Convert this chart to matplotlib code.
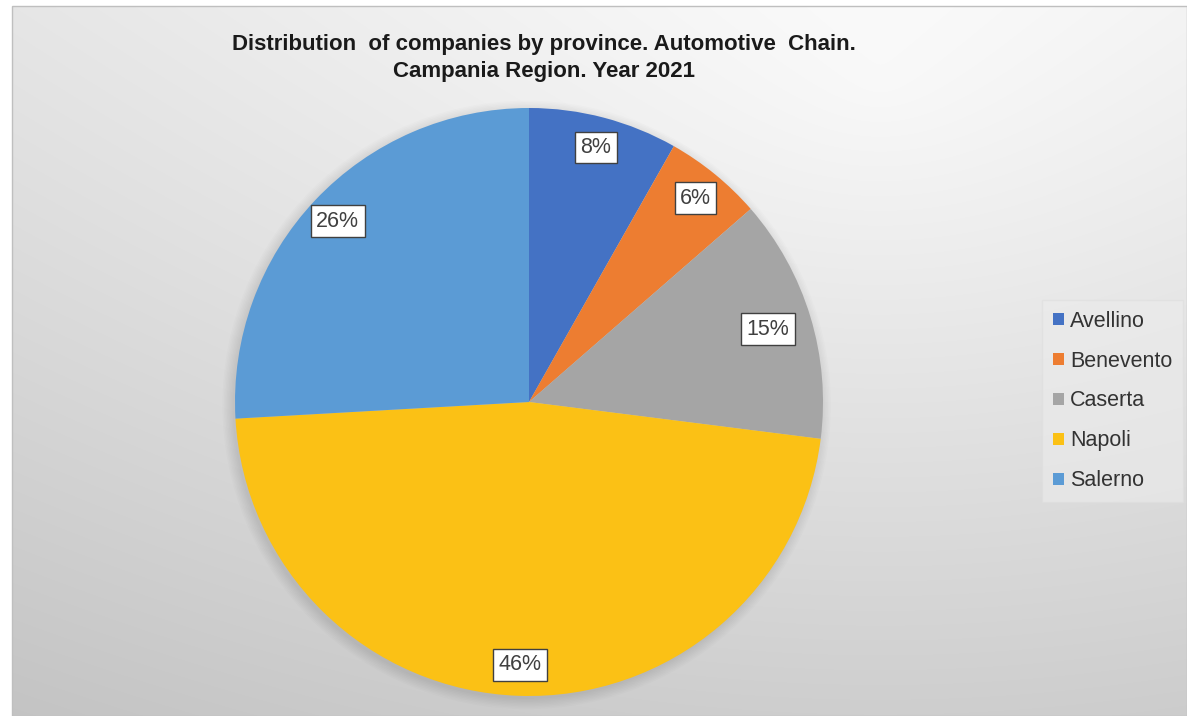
import numpy as np
import matplotlib.pyplot as plt
from matplotlib.patches import Rectangle, Circle

provinces = ['Avellino', 'Benevento', 'Caserta', 'Napoli', 'Salerno']
shares = [8.2, 5.4, 13.4, 47.1, 25.9]
pct_labels = ['8%', '6%', '15%', '46%', '26%']
colors = ['#4472C4', '#ED7D31', '#A5A5A5', '#FBC115', '#5B9BD5']

W, H = 1187, 716
fig = plt.figure(figsize=(W / 100, H / 100), dpi=100)
fig.patch.set_facecolor('white')

# background gradient of the chart area
bx0, by0, bw, bh = 12, 6, W - 12, H - 6
bg = fig.add_axes([bx0 / W, 0, bw / W, bh / H], zorder=0)
yy, xx = np.mgrid[0:bh, 0:bw]
xx = xx + bx0
yy = yy + by0
d = np.hypot(xx - 880, (yy - 80) * 1.1)
v = 252 - 0.025 * d - 0.04 * yy
v = np.clip(v, 190, 252) / 255
bg.imshow(np.dstack([v, v, v]), aspect='auto', extent=[0, 1, 0, 1])
bg.set_xlim(0, 1)
bg.set_ylim(0, 1)
bg.axis('off')
fig.patches.append(Rectangle((bx0 / W, 0), bw / W, bh / H, transform=fig.transFigure,
                             fill=False, edgecolor='#bfbfbf', lw=1, zorder=5))

# pie
cx, cy, R = 529, 402, 294
ax = fig.add_axes([(cx - R * 1.1) / W, (H - cy - R * 1.1) / H, 2.2 * R / W, 2.2 * R / H], zorder=2)
for i in range(8):
    ax.add_patch(Circle((-0.008, -0.01), 1.0 + 0.005 * i, color='black', alpha=0.012, lw=0, zorder=0))
wedges, _ = ax.pie(shares, colors=colors, startangle=90, counterclock=False, radius=1,
                   wedgeprops={'linewidth': 0})
for w, txt in zip(wedges, pct_labels):
    ang = np.deg2rad((w.theta1 + w.theta2) / 2)
    rr = 0.85 if txt == '15%' else 0.895
    ax.text(rr * np.cos(ang), rr * np.sin(ang), txt, ha='center', va='center',
            fontsize=15.5, color='#404040', family='Liberation Sans',
            bbox=dict(boxstyle='square,pad=0.25', fc='white', ec='#404040', lw=1))
ax.set_xlim(-1.1, 1.1)
ax.set_ylim(-1.1, 1.1)
ax.set_aspect('equal')
ax.axis('off')

fig.text(544 / W, 1 - 58 / H, 'Distribution  of companies by province. Automotive  Chain.\nCampania Region. Year 2021',
         ha='center', va='center', fontsize=16, fontweight='bold', family='Liberation Sans',
         color='#1a1a1a', linespacing=1.38, zorder=6)

leg = fig.legend(wedges, provinces, loc='center left', bbox_to_anchor=(1042 / W, 1 - 401 / H),
                 frameon=True, fancybox=False, handlelength=0.5, handleheight=0.5,
                 handletextpad=0.3, labelspacing=0.88, borderpad=0.5, borderaxespad=0,
                 prop={'family': 'Liberation Sans', 'size': 15.5})
leg.get_frame().set_facecolor('#ececec')
leg.get_frame().set_edgecolor('#dedede')
leg.get_frame().set_alpha(0.6)
for t in leg.get_texts():
    t.set_color('#333333')

fig.savefig('out.png', dpi=100)
